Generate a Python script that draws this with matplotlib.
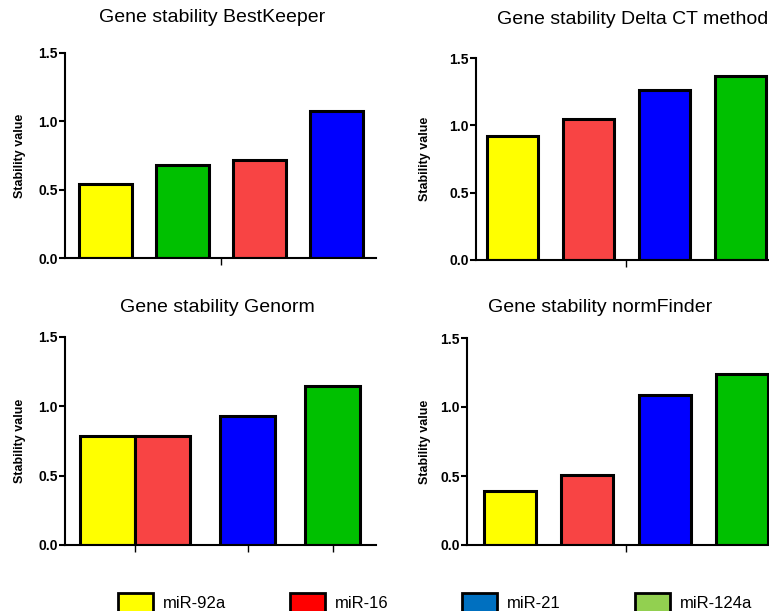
import matplotlib
matplotlib.use("Agg")
import matplotlib.pyplot as plt
from matplotlib.patches import Rectangle

plt.rcParams['font.family'] = ['Liberation Sans', 'DejaVu Sans']

# stability values per ranking method (genes listed in plotted order)
bestkeeper_genes = ['miR-92a', 'miR-124a', 'miR-16', 'miR-21']
bestkeeper_vals = [0.54, 0.68, 0.72, 1.075]

deltact_genes = ['miR-92a', 'miR-16', 'miR-21', 'miR-124a']
deltact_vals = [0.92, 1.05, 1.26, 1.37]

genorm_genes = ['miR-92a', 'miR-16', 'miR-21', 'miR-124a']
genorm_vals = [0.786, 0.786, 0.93, 1.146]

normfinder_genes = ['miR-92a', 'miR-16', 'miR-21', 'miR-124a']
normfinder_vals = [0.39, 0.51, 1.087, 1.24]

bar_colors = {'miR-92a': '#FFFF00', 'miR-16': '#F84444',
              'miR-21': '#0000FF', 'miR-124a': '#00C000'}

legend_labels = ['miR-92a', 'miR-16', 'miR-21', 'miR-124a']
legend_colors = ['#FFFF00', '#FF0000', '#0070C0', '#92D050']

W, H = 769, 611
fig = plt.figure(figsize=(W / 100, H / 100), dpi=100)


def px_rect(left, right, top, bottom):
    return [left / W, 1 - bottom / H, (right - left) / W, (bottom - top) / H]


panels = [
    dict(title='Gene stability BestKeeper', genes=bestkeeper_genes, vals=bestkeeper_vals,
         rect=px_rect(65, 376, 53, 258), x=[0, 1, 2, 3], width=0.69,
         xlim=(-0.53, 3.51), xticks=[1.5], title_xy=(212, 18), ylab_x=20),
    dict(title='Gene stability Delta CT method', genes=deltact_genes, vals=deltact_vals,
         rect=px_rect(476, 780, 58, 260), x=[0, 1, 2, 3], width=0.66,
         xlim=(-0.48, 3.52), xticks=[1.5], title_xy=(633, 20), ylab_x=425),
    dict(title='Gene stability Genorm', genes=genorm_genes, vals=genorm_vals,
         rect=px_rect(65, 376, 337, 545), x=[0.5, 1.15, 2.15, 3.15], width=0.65,
         xlim=(0, 3.66), xticks=[0.825, 2.15, 3.15], title_xy=(217, 308), ylab_x=20),
    dict(title='Gene stability normFinder', genes=normfinder_genes, vals=normfinder_vals,
         rect=px_rect(467, 781, 338, 545), x=[0, 1, 2, 3], width=0.67,
         xlim=(-0.555, 3.5), xticks=[1.5], title_xy=(600, 308), ylab_x=425),
]

for p in panels:
    ax = fig.add_axes(p['rect'])
    colors = [bar_colors[g] for g in p['genes']]
    ax.bar(p['x'], p['vals'], width=p['width'], color=colors,
           edgecolor='black', linewidth=2.2, zorder=2)
    ax.set_xlim(*p['xlim'])
    ax.set_ylim(0, 1.5)
    ax.set_yticks([0, 0.5, 1.0, 1.5])
    ax.set_yticklabels(['0.0', '0.5', '1.0', '1.5'], fontsize=10, fontweight='bold')
    ax.set_xticks(p['xticks'])
    ax.set_xticklabels([])
    for s in ['top', 'right']:
        ax.spines[s].set_visible(False)
    for s in ['left', 'bottom']:
        ax.spines[s].set_linewidth(1.5)
        ax.spines[s].set_zorder(3)
    ax.tick_params(axis='y', length=4, width=1.5, pad=1)
    ax.tick_params(axis='x', length=5, width=1.0)
    ax.patch.set_alpha(0)
    tx, ty = p['title_xy']
    fig.text(tx / W, 1 - ty / H, p['title'], fontsize=14, ha='center', va='center')
    bottom_px = (1 - p['rect'][1]) * H
    top_px = bottom_px - p['rect'][3] * H
    fig.text(p['ylab_x'] / W, 1 - (top_px + bottom_px) / 2 / H, 'Stability value',
             fontsize=9, fontweight='bold', rotation=90, ha='center', va='center')

# legend row along the bottom edge
legend_x = [118, 290, 462, 635]
for x0, lab, col in zip(legend_x, legend_labels, legend_colors):
    fig.add_artist(Rectangle((x0 / W, -4 / H), 35 / W, 22 / H, transform=fig.transFigure,
                             facecolor=col, edgecolor='black', linewidth=2))
    fig.text((x0 + 45) / W, 1 - 603 / H, lab, fontsize=12, ha='left', va='center')

fig.savefig('out.png', dpi=100)
